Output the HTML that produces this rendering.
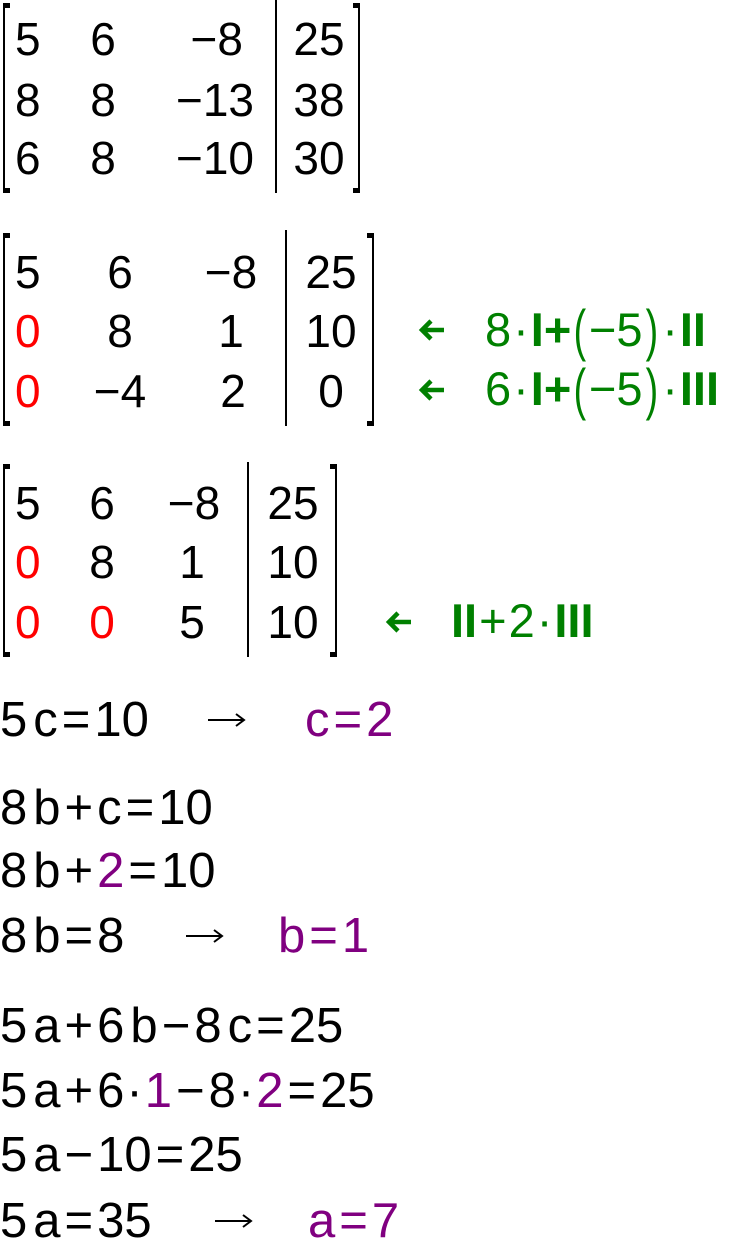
<!DOCTYPE html>
<html><head><meta charset="utf-8"><style>
body{margin:0;background:#fff;width:733px;height:1242px;position:relative;overflow:hidden;font-family:"Liberation Sans",sans-serif;}
.t{position:absolute;line-height:1;white-space:nowrap;font-size:46px;color:#000;}
.c{text-align:center;transform:translateX(-50%);}
.r{transform:translateX(-100%);}
.red{color:#f00;}
.bar{position:absolute;width:2px;background:#000;}
.lb,.rb{position:absolute;width:7px;border-top:5px solid #000;border-bottom:5px solid #000;box-sizing:border-box;}
.lb{border-left:2.5px solid #000;}
.rb{border-right:2.5px solid #000;}
.g{color:#008000;font-size:47px;}
.b{font-weight:bold;}
.p{display:inline-block;transform:scale(0.8,1.2);font-weight:normal;margin:0 1px;}
.e{font-size:49px;}
.pu{color:#800080;}
.s{margin-left:6px;}
.o{margin:0 4px;}
.d{margin:0 2px;}
svg{position:absolute;}
</style></head><body>

<!-- Matrix 1 -->
<div class="lb" style="left:3px;top:3px;height:190px"></div>
<div class="bar" style="left:275px;top:0px;height:193px"></div>
<div class="rb" style="left:353px;top:3px;height:190px"></div>
<div class="t" style="left:15px;top:16px">5</div>
<div class="t c" style="left:103px;top:16px">6</div>
<div class="t r" style="left:243px;top:16px">−8</div>
<div class="t c" style="left:319px;top:16px">25</div>
<div class="t" style="left:15px;top:77px">8</div>
<div class="t c" style="left:103px;top:77px">8</div>
<div class="t r" style="left:254px;top:77px">−13</div>
<div class="t c" style="left:319px;top:77px">38</div>
<div class="t" style="left:15px;top:135px">6</div>
<div class="t c" style="left:103px;top:135px">8</div>
<div class="t r" style="left:254px;top:135px">−10</div>
<div class="t c" style="left:319px;top:135px">30</div>

<!-- Matrix 2 -->
<div class="lb" style="left:3px;top:233px;height:193px"></div>
<div class="bar" style="left:285px;top:230px;height:196px"></div>
<div class="rb" style="left:367px;top:233px;height:193px"></div>
<div class="t" style="left:15px;top:249px">5</div>
<div class="t c" style="left:120px;top:249px">6</div>
<div class="t c" style="left:231px;top:249px">−8</div>
<div class="t c" style="left:331px;top:249px">25</div>
<div class="t red" style="left:15px;top:308px">0</div>
<div class="t c" style="left:120px;top:308px">8</div>
<div class="t c" style="left:231px;top:308px">1</div>
<div class="t c" style="left:331px;top:308px">10</div>
<div class="t red" style="left:15px;top:368px">0</div>
<div class="t c" style="left:120px;top:368px">−4</div>
<div class="t c" style="left:233px;top:368px">2</div>
<div class="t c" style="left:331px;top:368px">0</div>

<svg style="left:418px;top:316px" width="28" height="28" viewBox="0 0 28 28"><path d="M26 14H4M13 5L4 14L13 23" fill="none" stroke="#008000" stroke-width="4.5"/></svg>
<div class="t g" style="left:485px;top:306px">8<span class="d">·</span><span class="b">I</span><span class="b">+</span><span class="p">(</span>−5<span class="p">)</span><span class="d">·</span><span class="b">II</span></div>
<svg style="left:418px;top:376px" width="28" height="28" viewBox="0 0 28 28"><path d="M26 14H4M13 5L4 14L13 23" fill="none" stroke="#008000" stroke-width="4.5"/></svg>
<div class="t g" style="left:485px;top:365px">6<span class="d">·</span><span class="b">I</span><span class="b">+</span><span class="p">(</span>−5<span class="p">)</span><span class="d">·</span><span class="b">III</span></div>

<!-- Matrix 3 -->
<div class="lb" style="left:3px;top:464px;height:193px"></div>
<div class="bar" style="left:247px;top:462px;height:195px"></div>
<div class="rb" style="left:330px;top:464px;height:193px"></div>
<div class="t" style="left:15px;top:480px">5</div>
<div class="t c" style="left:102px;top:480px">6</div>
<div class="t c" style="left:194px;top:480px">−8</div>
<div class="t c" style="left:293px;top:480px">25</div>
<div class="t red" style="left:15px;top:539px">0</div>
<div class="t c" style="left:102px;top:539px">8</div>
<div class="t c" style="left:192px;top:539px">1</div>
<div class="t c" style="left:293px;top:539px">10</div>
<div class="t red" style="left:15px;top:599px">0</div>
<div class="t c red" style="left:102px;top:599px">0</div>
<div class="t c" style="left:192px;top:599px">5</div>
<div class="t c" style="left:293px;top:599px">10</div>
<svg style="left:385px;top:608px" width="28" height="28" viewBox="0 0 28 28"><path d="M26 14H4M13 5L4 14L13 23" fill="none" stroke="#008000" stroke-width="4.5"/></svg>
<div class="t g" style="left:451px;top:597px"><span class="b">II</span><span class="d">+</span>2<span class="d">·</span><span class="b">III</span></div>

<!-- Equations -->
<div class="t e" style="left:0;top:696px">5<span class="s">c</span><span class="o">=</span>10</div>
<svg style="left:207px;top:712px" width="40" height="16" viewBox="0 0 40 16"><path d="M1 8H37M29 2L37 8L29 14" fill="none" stroke="#000" stroke-width="2"/></svg>
<div class="t e pu" style="left:305px;top:696px">c<span class="o">=</span>2</div>

<div class="t e" style="left:0;top:784px">8<span class="s">b</span><span class="o">+</span>c<span class="o">=</span>10</div>
<div class="t e" style="left:0;top:847px">8<span class="s">b</span><span class="o">+</span><span class="pu">2</span><span class="o">=</span>10</div>
<div class="t e" style="left:0;top:912px">8<span class="s">b</span><span class="o">=</span>8</div>
<svg style="left:185px;top:928px" width="40" height="16" viewBox="0 0 40 16"><path d="M1 8H37M29 2L37 8L29 14" fill="none" stroke="#000" stroke-width="2"/></svg>
<div class="t e pu" style="left:278px;top:912px">b<span class="o">=</span>1</div>

<div class="t e" style="left:0;top:1002px">5<span class="s">a</span><span class="o">+</span>6<span class="s">b</span><span class="o">−</span>8<span class="s">c</span><span class="o">=</span>25</div>
<div class="t e" style="left:0;top:1067px">5<span class="s">a</span><span class="o">+</span>6<span class="d">·</span><span class="pu">1</span><span class="o">−</span>8<span class="d">·</span><span class="pu">2</span><span class="o">=</span>25</div>
<div class="t e" style="left:0;top:1131px">5<span class="s">a</span><span class="o">−</span>10<span class="o">=</span>25</div>
<div class="t e" style="left:0;top:1197px">5<span class="s">a</span><span class="o">=</span>35</div>
<svg style="left:214px;top:1213px" width="40" height="16" viewBox="0 0 40 16"><path d="M1 8H37M29 2L37 8L29 14" fill="none" stroke="#000" stroke-width="2"/></svg>
<div class="t e pu" style="left:308px;top:1197px">a<span class="o">=</span>7</div>
</body></html>
